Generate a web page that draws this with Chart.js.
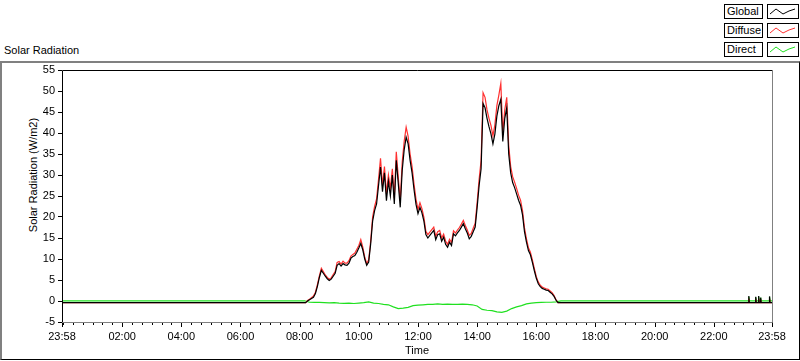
<!DOCTYPE html>
<html>
<head>
<meta charset="utf-8">
<script src="https://cdn.jsdelivr.net/npm/chart.js@4.4.0/dist/chart.umd.min.js"></script>
<style>
  body { margin: 0; width: 800px; height: 361px; position: relative; overflow: hidden; background: #fff;
         font-family: "Liberation Sans", Arial, sans-serif; font-size: 11px; color: #000; }
  #frame { position: absolute; left: 0; top: 61px; width: 800px; height: 299px; box-sizing: border-box;
           border-top: 2px solid #808080; border-left: 2px solid #808080;
           border-right: 1px solid #000; border-bottom: 1px solid #000; }
  #title { position: absolute; left: 4px; top: 44px; }
  #ytitle { position: absolute; left: 33px; top: 175px; white-space: nowrap;
            transform: translate(-50%, -50%) rotate(-90deg); }
  #chart { position: absolute; left: 0; top: 0; }
  .lg-text { position: absolute; left: 724px; width: 39px; height: 15px; box-sizing: border-box;
             border: 1px solid #000; padding-left: 2px; line-height: 13px; background: #fff; }
  .lg-line { position: absolute; left: 767px; width: 32px; height: 15px; box-sizing: border-box;
             border: 1px solid #000; background: #fff; }
</style>
</head>
<body>
<div id="frame"></div>
<div id="title">Solar Radiation</div>
<div id="ytitle">Solar Radiation (W/m2)</div>

<div class="lg-text" style="top:4px">Global</div>
<div class="lg-line" style="top:4px"><svg width="30" height="13"><polyline points="2,9 8,4 15,9 21,6 27,4" fill="none" stroke="#000" stroke-width="1"/></svg></div>
<div class="lg-text" style="top:23px">Diffuse</div>
<div class="lg-line" style="top:23px"><svg width="30" height="13"><polyline points="2,9 8,4 15,9 21,6 27,4" fill="none" stroke="#ff3030" stroke-width="1"/></svg></div>
<div class="lg-text" style="top:42px">Direct</div>
<div class="lg-line" style="top:42px"><svg width="30" height="13"><polyline points="2,9 8,4 15,9 21,6 27,4" fill="none" stroke="#20e020" stroke-width="1"/></svg></div>

<canvas id="chart" width="800" height="361"></canvas>

<script>
// time is minutes after midnight, the day runs from 23:58 (-2) to 23:58 (1438)

// night before sunrise
const morningTimes = [-2, 476];
const globalMorning = [-0.4, -0.4];
const diffuseMorning = [-0.4, -0.4];
const directMorning = [0.05, 0.05];

// daytime samples, every 4 minutes from 08:00
const dayStart = 480;
const dayStep = 4;
const globalDay = [
  -0.4, -0.4, -0.4, -0.4, 0.0, 0.3, 0.6, 0.9, 1.8, 3.5,
  5.6, 7.3, 6.6, 5.9, 5.3, 4.9, 5.2, 5.9, 6.6, 8.5,
  8.9, 8.3, 8.9, 8.6, 8.5, 9.0, 10.2, 10.6, 10.8, 11.6,
  12.6, 13.7, 12.2, 10.0, 8.5, 9.3, 13.5, 19.0, 21.5, 23.1,
  27.5, 31.9, 26.0, 30.5, 23.9, 28.5, 25.0, 30.0, 23.1, 33.5,
  28.0, 22.3, 31.1, 36.0, 39.0, 37.4, 33.5, 30.5, 26.5, 23.0,
  20.8, 22.3, 21.0, 19.0, 15.8, 15.0, 15.6, 16.2, 16.8, 14.6,
  15.8, 16.0, 14.2, 15.2, 13.5, 12.8, 14.0, 13.2, 16.0, 15.5,
  16.2, 16.8, 17.6, 18.4, 17.2, 16.2, 14.8, 15.4, 16.5, 17.6,
  22.3, 27.5, 31.5, 47.0, 46.0, 43.5, 41.5, 39.8, 37.4, 39.8,
  44.0, 46.5, 48.0, 38.0, 43.5, 46.0, 35.0, 30.5, 28.2, 27.0,
  25.5, 24.0, 22.8, 20.5, 16.5, 14.0, 12.0, 11.0, 9.2, 7.2,
  5.4, 4.1, 3.4, 3.0, 2.8, 2.6, 2.5, 2.1, 1.7, 1.1,
  0.2, -0.4, -0.4, -0.4
];
const diffuseDay = [
  -0.4, -0.4, -0.4, -0.4, 0.1, 0.4, 0.8, 1.2, 2.1, 3.9,
  6.0, 7.8, 7.0, 6.2, 5.6, 5.2, 5.5, 6.3, 7.0, 9.2,
  9.4, 8.8, 9.5, 9.0, 9.0, 9.6, 10.7, 11.1, 11.4, 12.3,
  13.2, 14.6, 12.8, 10.5, 8.9, 9.8, 14.2, 20.0, 22.5, 24.3,
  29.0, 34.0, 27.5, 32.0, 25.5, 30.0, 26.8, 31.5, 24.5, 35.5,
  29.5, 23.8, 33.0, 38.0, 41.4, 39.2, 35.0, 32.0, 27.8, 24.2,
  21.8, 23.4, 22.0, 19.9, 16.6, 15.8, 16.4, 17.0, 17.6, 15.4,
  16.5, 16.8, 15.0, 15.9, 14.3, 13.5, 14.7, 13.9, 16.7, 16.2,
  16.9, 17.5, 18.3, 19.2, 18.0, 16.9, 15.6, 16.1, 17.3, 18.5,
  23.5, 29.0, 33.5, 49.6, 48.5, 45.5, 43.5, 41.8, 39.3, 42.0,
  46.5, 49.0, 51.8, 40.0, 45.5, 48.5, 37.0, 32.0, 29.6, 28.3,
  26.8, 25.2, 24.0, 21.5, 17.4, 14.8, 12.7, 11.6, 9.8, 7.7,
  5.8, 4.5, 3.8, 3.3, 3.1, 2.9, 2.8, 2.4, 2.0, 1.3,
  0.3, -0.4, -0.4, -0.4
];

// direct component, every 10 minutes from 08:00
const directStart = 480;
const directStep = 10;
const directDay = [
  0.05, 0.05, -0.3, -0.35, -0.35, -0.4, -0.45, -0.4, -0.5, -0.55,
  -0.5, -0.6, -0.5, -0.4, -0.2, -0.5, -0.6, -0.8, -0.9, -1.4,
  -1.8, -1.7, -1.5, -1.1, -1.0, -0.9, -0.8, -0.8, -0.7, -0.8,
  -0.75, -0.8, -0.8, -0.75, -0.8, -0.9, -1.2, -2.0, -2.2, -2.3,
  -2.6, -2.7, -2.4, -1.8, -1.4, -1.1, -0.7, -0.5, -0.4, -0.35,
  -0.3, -0.3, -0.2, 0.05
];

// night after sunset, with the few blips just before midnight
const eveningTimes = [1016, 1390, 1391, 1392, 1404, 1405, 1406, 1410, 1411, 1412, 1414, 1415, 1416, 1432, 1433, 1434, 1438];
const globalEvening = [-0.4, -0.4, 1.2, -0.4, -0.4, 1.0, -0.4, -0.4, 1.2, -0.4, -0.4, 0.8, -0.4, -0.4, 1.1, -0.4, -0.4];
const diffuseEvening = [-0.4, -0.4, 0.6, -0.4, -0.4, 0.5, -0.4, -0.4, 0.6, -0.4, -0.4, 0.4, -0.4, -0.4, 0.5, -0.4, -0.4];
const directEvening = [0.05, 0.05, 1.0, 0.05, 0.05, 0.9, 0.05, 0.05, 1.0, 0.05, 0.05, 0.8, 0.05, 0.05, 1.0, 0.05, 0.05];

// axis ticks
const majorTicks = [-2, 120, 240, 360, 480, 600, 720, 840, 960, 1080, 1200, 1320, 1438];
const majorLabels = ['23:58', '02:00', '04:00', '06:00', '08:00', '10:00', '12:00', '14:00', '16:00', '18:00', '20:00', '22:00', '23:58'];
const minorStep = 20;

const toPoints = (times, values) => times.map((t, i) => ({ x: t, y: values[i] }));
const dayTimes = globalDay.map((v, i) => dayStart + i * dayStep);
const directTimes = directDay.map((v, i) => directStart + i * directStep);

const globalData = [].concat(toPoints(morningTimes, globalMorning), toPoints(dayTimes, globalDay), toPoints(eveningTimes, globalEvening));
const diffuseData = [].concat(toPoints(morningTimes, diffuseMorning), toPoints(dayTimes, diffuseDay), toPoints(eveningTimes, diffuseEvening));
const directData = [].concat(toPoints(morningTimes, directMorning), toPoints(directTimes, directDay), toPoints(eveningTimes, directEvening));

let xTicks = majorTicks.slice();
for (let m = 0; m <= 1420; m += minorStep) {
  if (!majorTicks.includes(m)) xTicks.push(m);
}
xTicks.sort((a, b) => a - b);

// plot frame and the two lengths of time ticks
const framePlugin = {
  id: 'frame',
  afterDraw(chart) {
    const { ctx, chartArea: a, scales } = chart;
    ctx.save();
    ctx.lineWidth = 1;
    ctx.strokeStyle = '#000';
    xTicks.forEach((v) => {
      const px = Math.round(scales.x.getPixelForValue(v)) + 0.5;
      const len = majorTicks.includes(v) ? 5 : 3;
      ctx.beginPath();
      ctx.moveTo(px, a.bottom);
      ctx.lineTo(px, a.bottom + len);
      ctx.stroke();
    });
    ctx.beginPath();
    ctx.moveTo(a.left + 0.5, a.bottom);
    ctx.lineTo(a.left + 0.5, a.top + 0.5);
    ctx.lineTo(a.right, a.top + 0.5);
    ctx.stroke();
    ctx.strokeStyle = '#808080';
    ctx.beginPath();
    ctx.moveTo(a.left, a.bottom + 0.5);
    ctx.lineTo(a.right + 0.5, a.bottom + 0.5);
    ctx.lineTo(a.right + 0.5, a.top);
    ctx.stroke();
    ctx.restore();
  },
};

const font = { family: '"Liberation Sans", Arial, sans-serif', size: 11 };

new Chart(document.getElementById('chart'), {
  type: 'line',
  plugins: [framePlugin],
  data: {
    datasets: [
      { label: 'Global', data: globalData, borderColor: '#000000', borderWidth: 1.2 },
      { label: 'Diffuse', data: diffuseData, borderColor: '#ff3030', borderWidth: 1.2 },
      { label: 'Direct', data: directData, borderColor: '#20e020', borderWidth: 1.2 },
    ],
  },
  options: {
    responsive: false,
    animation: false,
    devicePixelRatio: 1,
    layout: { padding: { top: 70, right: 28, left: 0, bottom: 0 } },
    elements: { point: { radius: 0 }, line: { tension: 0 } },
    plugins: { legend: { display: false }, tooltip: { enabled: false } },
    scales: {
      x: {
        type: 'linear',
        min: -2,
        max: 1438,
        afterFit: (scale) => { scale.height = 39; },
        afterBuildTicks: (scale) => { scale.ticks = xTicks.map((v) => ({ value: v })); },
        grid: { display: false, drawTicks: true, tickLength: 5 },
        border: { display: false },
        ticks: {
          autoSkip: false,
          maxRotation: 0,
          padding: 3,
          color: '#000',
          font: font,
          callback: (value) => {
            const i = majorTicks.indexOf(value);
            return i >= 0 ? majorLabels[i] : '';
          },
        },
        title: { display: true, text: 'Time', color: '#000', font: font, padding: { top: 0, bottom: 3 } },
      },
      y: {
        min: -5,
        max: 55,
        afterFit: (scale) => { scale.width = 62; },
        grid: { drawOnChartArea: false, tickLength: 4, color: '#000' },
        border: { display: false },
        ticks: { stepSize: 5, padding: 3, color: '#000', font: font },
      },
    },
  },
});
</script>
</body>
</html>
